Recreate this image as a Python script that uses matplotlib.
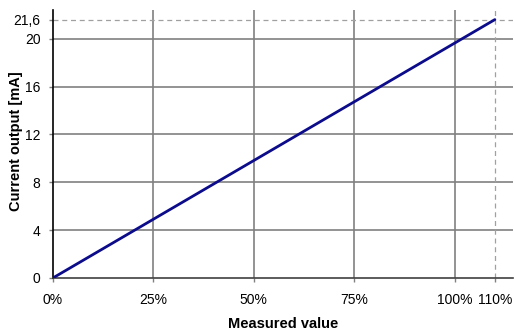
import matplotlib.pyplot as plt

plt.rcParams['font.family'] = ['Liberation Sans', 'DejaVu Sans']

# data
measured = [0.0, 1.10]
current = [0.0, 21.6]
x_ticks = [0.0, 0.25, 0.50, 0.75, 1.00, 1.10]
x_labels = ["0%", "25%", "50%", "75%", "100%", "110%"]
y_ticks = [0, 4, 8, 12, 16, 20, 21.6]
y_labels = ["0", "4", "8", "12", "16", "20", "21,6"]

fig = plt.figure(figsize=(5.15, 3.34), dpi=100)
ax = fig.add_axes([0.103, 0.168, 0.893, 0.802])

# grid lines
for xv in x_ticks[1:5]:
    ax.axvline(xv, color='#808080', lw=1.2, zorder=1)
for yv in y_ticks[1:6]:
    ax.axhline(yv, color='#808080', lw=1.2, zorder=1)
ax.axvline(x_ticks[-1], color='#a0a0a0', lw=0.9, ls=(0, (4, 3)), zorder=1)
ax.axhline(y_ticks[-1], color='#a0a0a0', lw=0.9, ls=(0, (4, 3)), zorder=1)

ax.plot(measured, current, color='#0c0c8a', lw=2.0, zorder=3, solid_capstyle='round')

ax.set_xlim(0, 1.145)
ax.set_ylim(0, 22.4)
ax.set_xticks(x_ticks)
ax.set_xticklabels(x_labels)
ax.set_yticks(y_ticks)
ax.set_yticklabels(y_labels)
ax.tick_params(axis='both', labelsize=10, length=3, color='#808080', width=1)
ax.tick_params(axis='x', pad=8)
ax.tick_params(axis='y', pad=6)

for s in ['top', 'right']:
    ax.spines[s].set_visible(False)
ax.spines['left'].set_color('black')
ax.spines['bottom'].set_color('#404040')
ax.spines['left'].set_linewidth(1.2)
ax.spines['bottom'].set_linewidth(1.2)

ax.set_xlabel("Measured value", fontsize=10.5, fontweight='bold')
ax.set_ylabel("Current output [mA]", fontsize=10.5, fontweight='bold')
ax.xaxis.set_label_coords(0.5, -0.145)
ax.yaxis.set_label_coords(-0.066, 0.51)

fig.savefig("out.png", dpi=100)
